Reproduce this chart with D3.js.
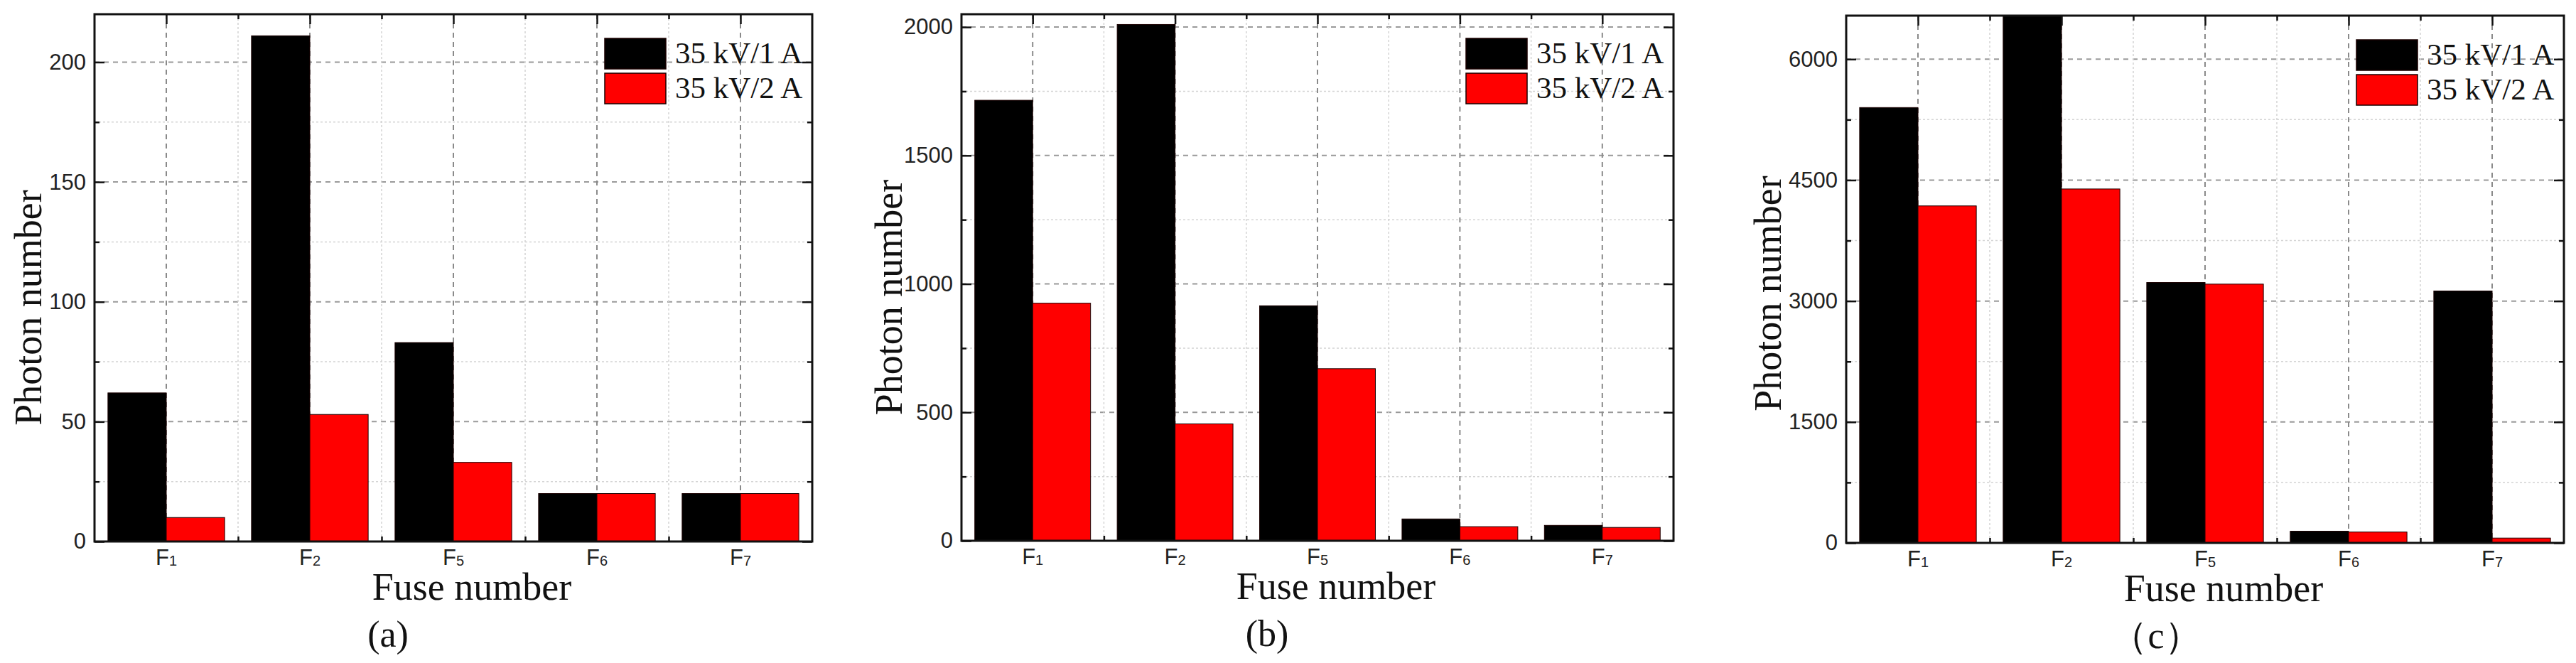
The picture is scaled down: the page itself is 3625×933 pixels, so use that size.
<!DOCTYPE html>
<html>
<head>
<meta charset="utf-8">
<script src="https://cdn.jsdelivr.net/npm/d3@7"></script>
<style>
  body { margin: 0; background: #fff; }
  svg { display: block; }
</style>
</head>
<body>
<div id="chart"></div>
<script>
// Datos
const fusibles = ["F1", "F2", "F5", "F6", "F7"];
const subindices = ["1", "2", "5", "6", "7"];
const series = ["35 kV/1 A", "35 kV/2 A"];
const coloresSerie = ["#000000", "#ff0000"];

const fotonesA_1A = [62, 211, 83, 20, 20];
const fotonesA_2A = [10, 53, 33, 20, 20];
const fotonesB_1A = [1715, 2010, 915, 85, 60];
const fotonesB_2A = [925, 455, 670, 55, 52];
const fotonesC_1A = [5400, 6560, 3230, 145, 3125];
const fotonesC_2A = [4180, 4390, 3210, 135, 60];

const ticksA = [0, 50, 100, 150, 200];
const ticksB = [0, 500, 1000, 1500, 2000];
const ticksC = [0, 1500, 3000, 4500, 6000];

const etiquetasPanel = ["(a)", "(b)", "（c）"];

// Paneles: posición y escala de cada gráfico
const paneles = [
  { etiqueta: etiquetasPanel[0], v1: fotonesA_1A, v2: fotonesA_2A, ticks: ticksA,
    left: 133, right: 1143, top: 20, bottom: 762, yMax: 220,
    tituloDx: 75, tituloDy: 42, etiquetaDx: -92 },
  { etiqueta: etiquetasPanel[1], v1: fotonesB_1A, v2: fotonesB_2A, ticks: ticksB,
    left: 1353, right: 2355, top: 20, bottom: 761, yMax: 2050,
    tituloDx: 84, tituloDy: 28, etiquetaDx: -71 },
  { etiqueta: etiquetasPanel[2], v1: fotonesC_1A, v2: fotonesC_2A, ticks: ticksC,
    left: 2598, right: 3608, top: 22, bottom: 764, yMax: 6540,
    tituloDx: 92, tituloDy: 20, etiquetaDx: -69 }
];

const ancho = 3625;
const alto = 933;
const fuenteSans = "'Liberation Sans', Arial, sans-serif";
const fuenteSerif = "'Liberation Serif', 'Times New Roman', serif";

const svg = d3.select("#chart")
  .append("svg")
  .attr("width", ancho)
  .attr("height", alto);

paneles.forEach(p => {
  const g = svg.append("g");

  const x = d3.scaleBand()
    .domain(fusibles)
    .range([p.left, p.right])
    .padding(0);

  const xSerie = d3.scaleBand()
    .domain([0, 1])
    .range([0, x.bandwidth()])
    .paddingInner(0)
    .paddingOuter(0.23);

  const y = d3.scaleLinear()
    .domain([0, p.yMax])
    .range([p.bottom, p.top])
    .clamp(true);

  const paso = p.ticks[1] - p.ticks[0];
  const menores = p.ticks.map(t => t + paso / 2).filter(t => t < p.yMax);

  // Rejilla horizontal
  g.selectAll(".rejilla-menor-h")
    .data(menores)
    .enter()
    .append("line")
    .attr("x1", p.left).attr("x2", p.right)
    .attr("y1", d => y(d)).attr("y2", d => y(d))
    .attr("stroke", "#d4d4d4")
    .attr("stroke-width", 1.5)
    .attr("stroke-dasharray", "3,3");

  g.selectAll(".rejilla-mayor-h")
    .data(p.ticks.filter(t => t > 0))
    .enter()
    .append("line")
    .attr("x1", p.left).attr("x2", p.right)
    .attr("y1", d => y(d)).attr("y2", d => y(d))
    .attr("stroke", "#9a9a9a")
    .attr("stroke-width", 2)
    .attr("stroke-dasharray", "7,6");

  // Rejilla vertical
  g.selectAll(".rejilla-menor-v")
    .data(fusibles.slice(1))
    .enter()
    .append("line")
    .attr("x1", d => x(d)).attr("x2", d => x(d))
    .attr("y1", p.top).attr("y2", p.bottom)
    .attr("stroke", "#d4d4d4")
    .attr("stroke-width", 1.5)
    .attr("stroke-dasharray", "3,3");

  g.selectAll(".rejilla-mayor-v")
    .data(fusibles)
    .enter()
    .append("line")
    .attr("x1", d => x(d) + x.bandwidth() / 2).attr("x2", d => x(d) + x.bandwidth() / 2)
    .attr("y1", p.top).attr("y2", p.bottom)
    .attr("stroke", "#8a8a8a")
    .attr("stroke-width", 2)
    .attr("stroke-dasharray", "7,6");

  // Barras
  const datos = fusibles.map((f, i) => ({ fusible: f, valores: [p.v1[i], p.v2[i]] }));
  const grupos = g.selectAll(".grupo")
    .data(datos)
    .enter()
    .append("g")
    .attr("transform", d => `translate(${x(d.fusible)},0)`);

  grupos.selectAll("rect")
    .data(d => d.valores.map((v, s) => ({ v, s })))
    .enter()
    .append("rect")
    .attr("x", d => xSerie(d.s))
    .attr("width", xSerie.bandwidth())
    .attr("y", d => y(d.v))
    .attr("height", d => p.bottom - y(d.v))
    .attr("fill", d => coloresSerie[d.s])
    .attr("stroke", "#1a0000")
    .attr("stroke-width", 1);

  // Ejes con marcas hacia dentro
  const ejeIzq = g.append("g")
    .attr("transform", `translate(${p.left},0)`)
    .call(d3.axisLeft(y).tickValues(p.ticks).tickSize(-14).tickPadding(12).tickFormat(d3.format("d")));
  g.append("g")
    .attr("transform", `translate(${p.left},0)`)
    .call(d3.axisLeft(y).tickValues(menores).tickSize(-7).tickFormat(""));
  g.append("g")
    .attr("transform", `translate(${p.right},0)`)
    .call(d3.axisRight(y).tickValues(p.ticks).tickSize(-14).tickFormat(""));
  g.append("g")
    .attr("transform", `translate(${p.right},0)`)
    .call(d3.axisRight(y).tickValues(menores).tickSize(-7).tickFormat(""));

  const xCentro = d3.scalePoint().domain(fusibles)
    .range([p.left + x.bandwidth() / 2, p.right - x.bandwidth() / 2]);
  const xBorde = d3.scalePoint().domain(fusibles.slice(1))
    .range([p.left + x.bandwidth(), p.right - x.bandwidth()]);
  g.append("g")
    .attr("transform", `translate(0,${p.top})`)
    .call(d3.axisTop(xCentro).tickSize(-14).tickFormat(""));
  g.append("g")
    .attr("transform", `translate(0,${p.top})`)
    .call(d3.axisTop(xBorde).tickSize(-7).tickFormat(""));
  g.append("g")
    .attr("transform", `translate(0,${p.bottom})`)
    .call(d3.axisBottom(xBorde).tickSize(-7).tickFormat(""));

  g.selectAll("g.tick line").attr("stroke", "#111").attr("stroke-width", 2.5);
  g.selectAll(".domain").remove();

  ejeIzq.selectAll("text")
    .style("font-family", fuenteSans)
    .style("font-size", "31px")
    .attr("fill", "#222");

  // Marco
  g.append("rect")
    .attr("x", p.left).attr("y", p.top)
    .attr("width", p.right - p.left).attr("height", p.bottom - p.top)
    .attr("fill", "none")
    .attr("stroke", "#111")
    .attr("stroke-width", 3);

  // Etiquetas del eje X con subíndice
  const etiquetasX = g.selectAll(".etiqueta-x")
    .data(fusibles)
    .enter()
    .append("text")
    .attr("x", d => x(d) + x.bandwidth() / 2)
    .attr("y", p.bottom + 33)
    .attr("text-anchor", "middle")
    .style("font-family", fuenteSans)
    .style("font-size", "31px")
    .attr("fill", "#222");
  etiquetasX.append("tspan").text("F");
  etiquetasX.append("tspan")
    .attr("dy", 1)
    .style("font-size", "20px")
    .text((d, i) => subindices[i]);

  // Títulos de ejes
  g.append("text")
    .attr("transform", `translate(${p.left - p.tituloDx},${(p.top + p.bottom) / 2 + p.tituloDy}) rotate(-90)`)
    .attr("text-anchor", "middle")
    .style("font-family", fuenteSerif)
    .style("font-size", "54px")
    .attr("fill", "#111")
    .text("Photon number");

  g.append("text")
    .attr("x", (p.left + p.right) / 2 + 26)
    .attr("y", p.bottom + 82)
    .attr("text-anchor", "middle")
    .style("font-family", fuenteSerif)
    .style("font-size", "54px")
    .attr("fill", "#111")
    .text("Fuse number");

  g.append("text")
    .attr("x", (p.left + p.right) / 2 + p.etiquetaDx)
    .attr("y", p.bottom + 148)
    .attr("text-anchor", "middle")
    .style("font-family", fuenteSerif)
    .style("font-size", "52px")
    .attr("fill", "#111")
    .text(p.etiqueta);

  // Leyenda
  const leyenda = g.selectAll(".leyenda")
    .data(series)
    .enter()
    .append("g")
    .attr("transform", (d, i) => `translate(${p.right - 292},${p.top + 34 + i * 49})`);

  leyenda.append("rect")
    .attr("width", 86)
    .attr("height", 43)
    .attr("fill", (d, i) => coloresSerie[i])
    .attr("stroke", "#1a0000")
    .attr("stroke-width", 1.5);

  leyenda.append("text")
    .attr("x", 99)
    .attr("y", 35)
    .style("font-family", fuenteSerif)
    .style("font-size", "43px")
    .attr("fill", "#111")
    .text(d => d);
});
</script>
</body>
</html>
